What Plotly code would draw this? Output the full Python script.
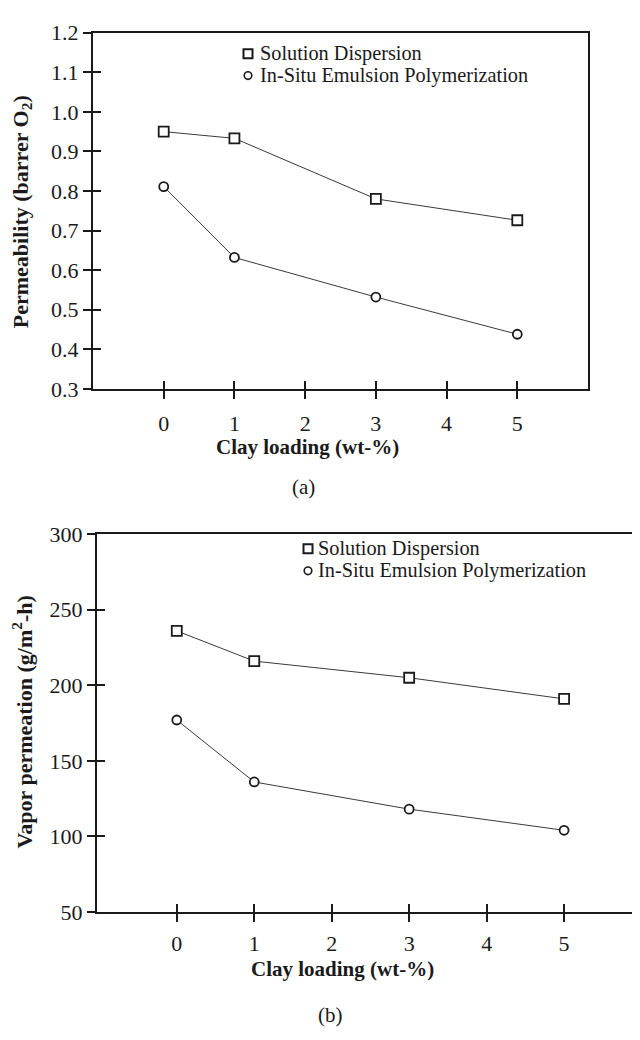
import plotly.graph_objects as go

clay = [0, 1, 3, 5]
perm_solution = [0.95, 0.933, 0.78, 0.726]
perm_insitu = [0.811, 0.632, 0.532, 0.438]
vap_solution = [236, 216, 205, 191]
vap_insitu = [177, 136, 118, 104]
series_names = ["Solution Dispersion", "In-Situ Emulsion Polymerization"]
x_ticks = [0, 1, 2, 3, 4, 5]
perm_ticks = [0.3, 0.4, 0.5, 0.6, 0.7, 0.8, 0.9, 1.0, 1.1, 1.2]
vap_ticks = [50, 100, 150, 200, 250, 300]

FONT = "Liberation Serif"
INK = "#1a1a1a"

# page has an 8px body margin; figure is placed at (8, 8)
W, H = 632, 1032
def fx(px):
    return (px - 8) / W
def fy(py):
    return 1 - (py - 8) / H

fig = go.Figure()

def add_series(x, y, xa, ya, symbol, size):
    fig.add_trace(go.Scatter(
        x=x, y=y, xaxis=xa, yaxis=ya, mode="lines+markers",
        line=dict(color="#3a3a3a", width=1),
        marker=dict(symbol=symbol, size=size, color="white",
                    line=dict(color=INK, width=1.8)),
        showlegend=False, hoverinfo="skip"))

add_series(clay, perm_solution, "x", "y", "square", 10)
add_series(clay, perm_insitu, "x", "y", "circle", 9)
add_series(clay, vap_solution, "x2", "y2", "square", 10)
add_series(clay, vap_insitu, "x2", "y2", "circle", 9)

tickfont = dict(family=FONT, size=22, color=INK)

axis_common = dict(showgrid=False, zeroline=False, showline=True,
                   linecolor=INK, linewidth=2, ticks="outside", ticklen=8,
                   tickwidth=2, tickcolor=INK, tickfont=tickfont)

def inner(over, anchor, vals):
    return dict(overlaying=over, matches=over, anchor=anchor, tickvals=vals,
                ticks="inside", ticklen=8, tickwidth=2, tickcolor=INK,
                showticklabels=False, showgrid=False, zeroline=False, showline=False)

fig.update_layout(
    width=W, height=H,
    margin=dict(l=0, r=0, t=0, b=0),
    paper_bgcolor="white", plot_bgcolor="white",
    font=dict(family=FONT, color=INK),
    xaxis=dict(axis_common, domain=[fx(93), fx(588)], range=[-1, 6], tickvals=x_ticks,
               anchor="y", mirror=True, ticklabelstandoff=6),
    yaxis=dict(axis_common, domain=[fy(386), fy(21)], range=[0.3, 1.2], tickvals=perm_ticks,
               tickformat=".1f", anchor="x", mirror=True),
    xaxis2=dict(axis_common, domain=[fx(97), fx(640)], range=[-1.03, 5.98], tickvals=x_ticks,
                anchor="y2", mirror=True, ticklabelstandoff=3),
    yaxis2=dict(axis_common, domain=[fy(922), fy(535)], range=[50, 300], tickvals=vap_ticks,
                anchor="x2", mirror=False),
    xaxis3=inner("x", "y", x_ticks),
    yaxis3=inner("y", "x", perm_ticks),
    xaxis4=inner("x2", "y2", x_ticks),
    yaxis4=inner("y2", "x2", vap_ticks),
)

# invisible placeholders so the overlay tick axes render
fig.add_trace(go.Scatter(x=[None], y=[None], xaxis="x3", yaxis="y3", showlegend=False))
fig.add_trace(go.Scatter(x=[None], y=[None], xaxis="x4", yaxis="y4", showlegend=False))

TF = dict(family=FONT, size=21, color=INK)
ann = []
def text(t, px, py, angle=0, font=TF, xanchor="center", **kw):
    ann.append(dict(text=t, x=fx(px), y=fy(py), xref="paper", yref="paper",
                    xanchor=xanchor, yanchor="middle", textangle=angle,
                    showarrow=False, font=font, **kw))

text("<b>Permeability (barrer O<sub>2</sub>)</b>", 22, 205, angle=-90, font=dict(family=FONT, size=22, color=INK))
text("<b>Vapor permeation (g/m<sup>2</sup>-h)</b>", 22, 728, angle=-90, font=dict(family=FONT, size=22, color=INK))
text("<b>Clay loading (wt-%)</b>", 307, 446)
text("<b>Clay loading (wt-%)</b>", 342, 981)
text("(a)", 303, 487)
text("(b)", 330, 1028)

LF = dict(family=FONT, size=20.3, color=INK)
shapes = []
def legend(mx, my0, dy, tx):
    for i, name in enumerate(series_names):
        my = my0 + i * dy
        text(name, tx, my, font=LF, xanchor="left", borderpad=0)
        r = 4.5 if i == 0 else 3.8
        shapes.append(dict(type="rect" if i == 0 else "circle",
                           xref="paper", yref="paper",
                           xsizemode="pixel", ysizemode="pixel",
                           xanchor=fx(mx), yanchor=fy(my),
                           x0=-r, x1=r, y0=-r, y1=r,
                           line=dict(color=INK, width=2 if i == 0 else 1.6),
                           fillcolor="white"))

legend(248, 42.5, 22.5, 259)
legend(308, 550, 22.5, 317)

fig.update_layout(annotations=ann, shapes=shapes)

fig.write_html("out.html")
